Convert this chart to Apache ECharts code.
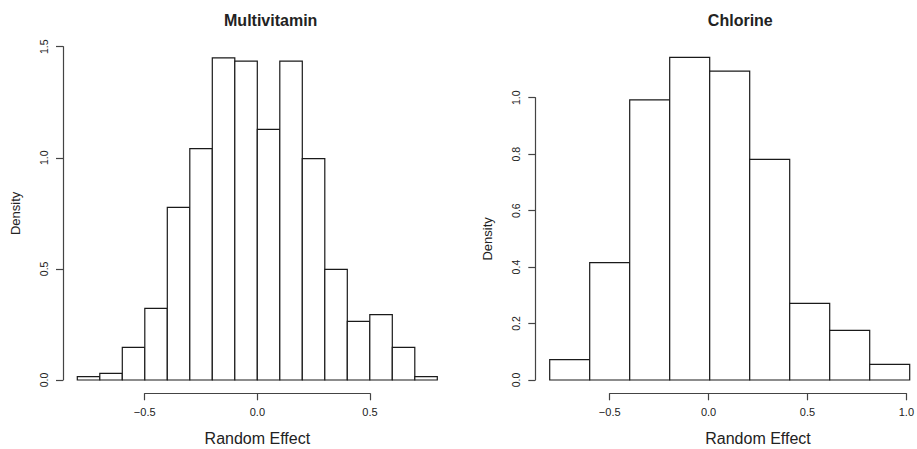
<!DOCTYPE html>
<html>
<head>
<meta charset="utf-8">
<script src="https://cdn.jsdelivr.net/npm/echarts@6/dist/echarts.min.js"></script>
<style>html,body{margin:0;padding:0;background:#fff;}#c{width:917px;height:449px;}</style>
</head>
<body>
<div id="c"></div>
<script>
// ---- data ----
const mvTitle = "Multivitamin";
const chTitle = "Chlorine";
const xLabel = "Random Effect";
const yLabel = "Density";
const mvBreaks = [-0.8,-0.7,-0.6,-0.5,-0.4,-0.3,-0.2,-0.1,0.0,0.1,0.2,0.3,0.4,0.5,0.6,0.7,0.8];
const mvDensity = [0.015,0.03,0.147,0.3225,0.777,1.041,1.45,1.435,1.128,1.435,0.996,0.498,0.264,0.294,0.147,0.015];
const chBreaks = [-0.8,-0.6,-0.4,-0.2,0.0,0.2,0.4,0.6,0.8,1.0];
const chDensity = [0.072,0.4156,0.992,1.143,1.094,0.7816,0.2716,0.176,0.0555];
const mvXTicks = [-0.5, 0.0, 0.5];
const mvYTicks = [0.0, 0.5, 1.0, 1.5];
const chXTicks = [-0.5, 0.0, 0.5, 1.0];
const chYTicks = [0.0, 0.2, 0.4, 0.6, 0.8, 1.0];

function bins(breaks, dens){ return dens.map((d,i)=>[breaks[i], breaks[i+1], d]); }
const fmt = v => (Math.round(v*10)/10).toFixed(1).replace('-', '\u2212');

const FONT = '"Liberation Sans", Arial, Helvetica, sans-serif';
const TXT = '#222';
const AX = '#444';

function renderBar(params, api){
  const p0 = api.coord([api.value(0), 0]);
  const p1 = api.coord([api.value(1), api.value(2)]);
  return {
    type: 'rect',
    shape: { x: p0[0], y: p1[1], width: p1[0]-p0[0], height: p0[1]-p1[1] },
    style: { fill: '#fff', stroke: '#1a1a1a', lineWidth: 1.2 }
  };
}

function xAxisVisible(grid, ticks){
  return {
    type: 'value', gridIndex: grid, position: 'bottom',
    min: ticks[0], max: ticks[ticks.length-1], interval: 0.5,
    axisLine: { show: true, onZero: false, lineStyle: { color: AX, width: 1.2 } },
    axisTick: { show: true, length: 7, lineStyle: { color: AX, width: 1.2 } },
    axisLabel: { show: true, margin: 13, fontSize: 11, color: TXT, fontFamily: FONT, formatter: fmt },
    splitLine: { show: false },
    name: xLabel, nameLocation: 'middle', nameGap: 37,
    nameTextStyle: { fontSize: 16, color: TXT, fontFamily: FONT }
  };
}
function yAxisVisible(grid, ticks, interval, offset){
  return {
    type: 'value', gridIndex: grid, position: 'left', offset: offset,
    min: ticks[0], max: ticks[ticks.length-1], interval: interval,
    axisLine: { show: true, onZero: false, lineStyle: { color: AX, width: 1.2 } },
    axisTick: { show: true, length: 7, lineStyle: { color: AX, width: 1.2 } },
    axisLabel: { show: true, rotate: 90, margin: 14, fontSize: 10.5, color: TXT, fontFamily: FONT, formatter: fmt },
    splitLine: { show: false },
    name: yLabel, nameLocation: 'middle', nameGap: 41, nameRotate: 90,
    nameTextStyle: { fontSize: 13, color: TXT, fontFamily: FONT }
  };
}
function hidden(type, grid, min, max){
  return { type: 'value', gridIndex: grid, min: min, max: max, show: false,
           axisLine: { onZero: false }, splitLine: { show: false } };
}

const chart = echarts.init(document.getElementById('c'), null, { renderer: 'svg' });
chart.setOption({
  animation: false,
  backgroundColor: '#fff',
  title: [
    { text: mvTitle, left: 265.7, top: 7, textAlign: 'center',
      textStyle: { fontSize: 16, fontWeight: 'bold', color: TXT, fontFamily: FONT } },
    { text: chTitle, left: 735.3, top: 7, textAlign: 'center',
      textStyle: { fontSize: 16, fontWeight: 'bold', color: TXT, fontFamily: FONT } }
  ],
  grid: [
    { left: 77.3, top: 46.7, width: 360, height: 333.3 },
    { left: 144.7, top: 392.3, width: 225.3, height: 1 },
    { left: 549.7, top: 41.2, width: 360, height: 338.8 },
    { left: 535.3, top: 97.7, width: 10, height: 282.3 },
    { left: 609.7, top: 392.3, width: 300, height: 1 }
  ],
  xAxis: [
    hidden('x', 0, mvBreaks[0], mvBreaks[mvBreaks.length-1]),
    xAxisVisible(1, mvXTicks),
    hidden('x', 2, chBreaks[0], chBreaks[chBreaks.length-1]),
    hidden('x', 3, 0, 1),
    xAxisVisible(4, chXTicks)
  ],
  yAxis: [
    yAxisVisible(0, mvYTicks, 0.5, 14.3),
    hidden('y', 1, 0, 1),
    hidden('y', 2, 0, 1.2),
    yAxisVisible(3, chYTicks, 0.2, 0),
    hidden('y', 4, 0, 1)
  ],
  series: [
    { type: 'custom', xAxisIndex: 0, yAxisIndex: 0, renderItem: renderBar, data: bins(mvBreaks, mvDensity), silent: true },
    { type: 'custom', xAxisIndex: 2, yAxisIndex: 2, renderItem: renderBar, data: bins(chBreaks, chDensity), silent: true }
  ]
});
</script>
</body>
</html>
